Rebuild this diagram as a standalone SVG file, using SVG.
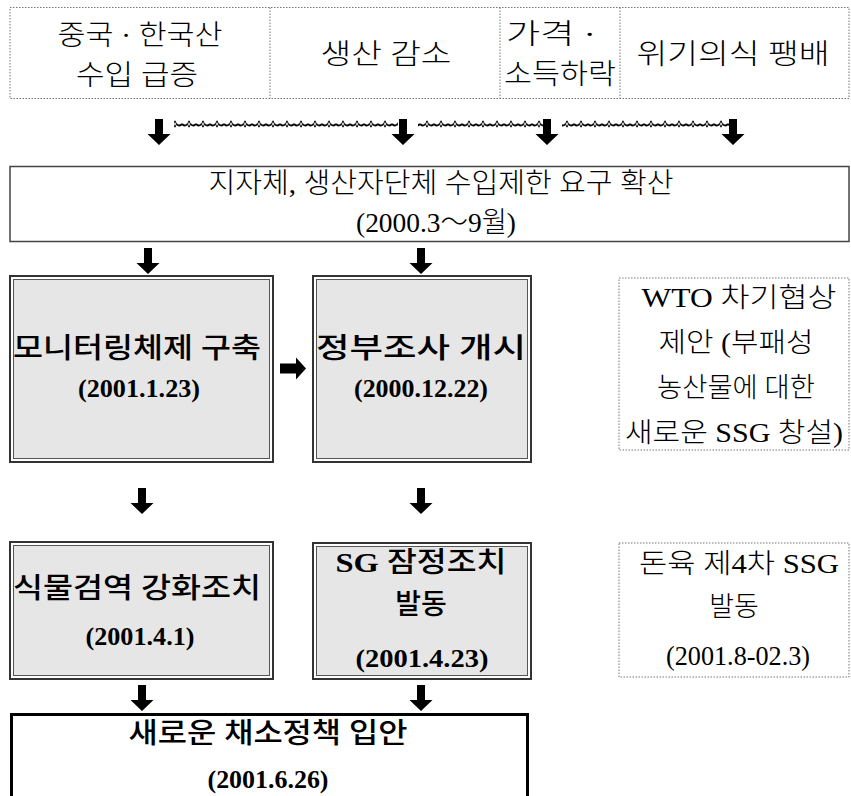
<svg xmlns="http://www.w3.org/2000/svg" xmlns:xlink="http://www.w3.org/1999/xlink" width="851" height="796" viewBox="0 0 851 796">
<style>
.t{font-family:"Liberation Serif","Noto Sans CJK KR",serif;font-size:28px;font-weight:300;fill:#000;text-anchor:middle}
.w{font-family:"Liberation Serif","Noto Sans CJK KR",serif;font-size:27px;font-weight:300;fill:#000;text-anchor:middle}
.h{font-family:"Liberation Serif","Noto Sans CJK KR",serif;font-size:28px;font-weight:500;fill:#000;text-anchor:middle}
.d{font-family:"Liberation Serif","Noto Sans CJK KR",serif;font-size:26px;font-weight:bold;fill:#000;text-anchor:middle}
.dot{fill:#fff;stroke:#777;stroke-width:1;stroke-dasharray:1.5 1.5}
.dotl{stroke:#777;stroke-width:1;stroke-dasharray:1.5 1.5}
.gout{fill:#fff;stroke:#333;stroke-width:2}
.gin{fill:#e6e6e6;stroke:#555;stroke-width:1}
.arr{fill:#000}
</style>
<defs>
<path id="dn" d="M-4,0 H4 V15 H11.5 L0,26 L-11.5,15 H-4 Z"/>
<pattern id="wave" patternUnits="userSpaceOnUse" x="0" y="119" width="14" height="10">
<path d="M0,5 Q3,8 5.5,5 M8.5,5 Q11,8 14,5" fill="none" stroke="#000" stroke-width="1.8"/>
<path d="M5.5,5 L7,1.8 L8.5,5 L7,8.2 Z" fill="#fff" stroke="#000" stroke-width="1"/>
</pattern>
</defs>
<rect width="851" height="796" fill="#fff"/>

<g id="top-box">
<rect class="dot" x="10" y="7.5" width="839" height="91"/>
<line class="dotl" x1="270" y1="7.5" x2="270" y2="98.5"/>
<line class="dotl" x1="500" y1="7.5" x2="500" y2="98.5"/>
<line class="dotl" x1="620" y1="7.5" x2="620" y2="98.5"/>
<text class="t" x="140" y="45" textLength="165" lengthAdjust="spacingAndGlyphs">중국 · 한국산</text>
<text class="t" x="137" y="85" textLength="122" lengthAdjust="spacingAndGlyphs">수입 급증</text>
<text class="t" x="386" y="64" textLength="131" lengthAdjust="spacingAndGlyphs">생산 감소</text>
<text class="t" x="506" y="44" style="text-anchor:start" textLength="90" lengthAdjust="spacingAndGlyphs">가격 ·</text>
<text class="t" x="560" y="84" textLength="112" lengthAdjust="spacingAndGlyphs">소득하락</text>
<text class="t" x="733" y="64" textLength="193" lengthAdjust="spacingAndGlyphs">위기의식 팽배</text>
</g>

<g id="demand">
<rect x="10" y="166.5" width="839" height="75" fill="#fff" stroke="#444" stroke-width="1.5"/>
<text class="t" x="441" y="193" textLength="465" lengthAdjust="spacingAndGlyphs">지자체, 생산자단체 수입제한 요구 확산</text>
<text class="t" x="436" y="232" textLength="160" lengthAdjust="spacingAndGlyphs">(2000.3～9월)</text>
</g>

<g id="monitoring">
<rect class="gout" x="10" y="276" width="263" height="186"/>
<rect class="gin" x="13.5" y="279.5" width="256" height="179"/>
<text class="h" x="137" y="358" textLength="248" lengthAdjust="spacingAndGlyphs">모니터링체제 구축</text>
<text class="d" x="139" y="397" textLength="122" lengthAdjust="spacingAndGlyphs">(2001.1.23)</text>
</g>

<g id="investigation">
<rect class="gout" x="313" y="276" width="218" height="186"/>
<rect class="gin" x="316.5" y="279.5" width="211" height="179"/>
<text class="h" x="421" y="358" textLength="210" lengthAdjust="spacingAndGlyphs">정부조사 개시</text>
<text class="d" x="421" y="397" textLength="134" lengthAdjust="spacingAndGlyphs">(2000.12.22)</text>
</g>

<g id="wto">
<rect class="dot" x="619" y="278" width="230" height="172"/>
<text class="w" x="739" y="307" textLength="195" lengthAdjust="spacingAndGlyphs">WTO 차기협상</text>
<text class="w" x="736" y="352" textLength="155" lengthAdjust="spacingAndGlyphs">제안 (부패성</text>
<text class="w" x="736" y="397" textLength="158" lengthAdjust="spacingAndGlyphs">농산물에 대한</text>
<text class="w" x="734" y="442" textLength="218" lengthAdjust="spacingAndGlyphs">새로운 SSG 창설)</text>
</g>

<g id="quarantine">
<rect class="gout" x="10" y="542" width="263" height="137"/>
<rect class="gin" x="13.5" y="545.5" width="256" height="130"/>
<text class="h" x="137" y="598" textLength="248" lengthAdjust="spacingAndGlyphs">식물검역 강화조치</text>
<text class="d" x="140" y="645" textLength="109" lengthAdjust="spacingAndGlyphs">(2001.4.1)</text>
</g>

<g id="sg">
<rect class="gout" x="313" y="543" width="218" height="136"/>
<rect class="gin" x="316.5" y="546.5" width="211" height="129"/>
<text class="h" x="421" y="572" textLength="171" lengthAdjust="spacingAndGlyphs"><tspan font-weight="bold">SG</tspan> 잠정조치</text>
<text class="h" x="421" y="614">발동</text>
<text class="d" x="422" y="667" textLength="133" lengthAdjust="spacingAndGlyphs">(2001.4.23)</text>
</g>

<g id="pork">
<rect class="dot" x="619" y="543" width="230" height="134"/>
<text class="w" x="739" y="573" textLength="200" lengthAdjust="spacingAndGlyphs">돈육 제4차 SSG</text>
<text class="w" x="734" y="616">발동</text>
<text class="w" x="738" y="665" textLength="144" lengthAdjust="spacingAndGlyphs">(2001.8-02.3)</text>
</g>

<g id="policy">
<rect x="11.5" y="714.5" width="516" height="90" fill="#fff" stroke="#000" stroke-width="3"/>
<text class="h" x="268" y="743" textLength="279" lengthAdjust="spacingAndGlyphs">새로운 채소정책 입안</text>
<text class="d" x="268" y="788" textLength="121" lengthAdjust="spacingAndGlyphs">(2001.6.26)</text>
</g>

<g id="connectors" class="arr">
<rect x="174" y="119" width="224" height="10" fill="url(#wave)"/>
<rect x="418" y="119" width="126" height="10" fill="url(#wave)"/>
<rect x="562" y="119" width="168" height="10" fill="url(#wave)"/>
<use xlink:href="#dn" x="159" y="119"/>
<use xlink:href="#dn" x="403" y="119"/>
<use xlink:href="#dn" x="547" y="119"/>
<use xlink:href="#dn" x="733" y="119"/>
<use xlink:href="#dn" x="148" y="248"/>
<use xlink:href="#dn" x="421" y="248"/>
<use xlink:href="#dn" x="142" y="488"/>
<use xlink:href="#dn" x="421" y="488"/>
<use xlink:href="#dn" x="142" y="685"/>
<use xlink:href="#dn" x="421" y="685"/>
<path d="M280,363.5 H296 V357.5 L306,368.5 L296,379.5 V373.5 H280 Z"/>
</g>
</svg>
